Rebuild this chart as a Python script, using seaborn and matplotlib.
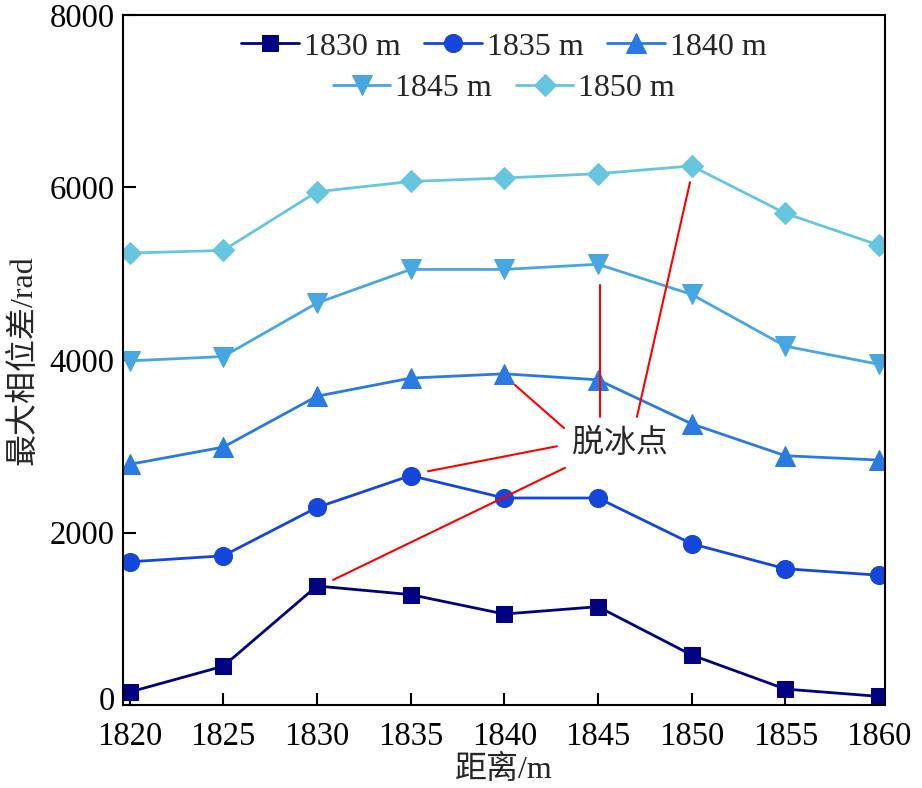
import matplotlib
matplotlib.use('Agg')
import matplotlib.pyplot as plt
import matplotlib.transforms as mtransforms
import seaborn as sns
import pandas as pd

# 数据
distance = [1820, 1825, 1830, 1835, 1840, 1845, 1850, 1855, 1860]
series_names = ['1830 m', '1835 m', '1840 m', '1845 m', '1850 m']
phase_1830 = [150, 450, 1380, 1280, 1055, 1140, 580, 185, 100]
phase_1835 = [1660, 1730, 2290, 2660, 2400, 2400, 1870, 1580, 1505]
phase_1840 = [2790, 2990, 3580, 3790, 3840, 3770, 3260, 2890, 2840]
phase_1845 = [3990, 4040, 4660, 5050, 5050, 5110, 4760, 4160, 3950]
phase_1850 = [5240, 5270, 5950, 6070, 6110, 6160, 6250, 5700, 5330]
all_phase = [phase_1830, phase_1835, phase_1840, phase_1845, phase_1850]

colors = ['#000080', '#1446dc', '#2a7ae2', '#48a6e0', '#66c6e0']
markers = ['s', 'o', '^', 'v', 'D']
msizes = [12, 13, 15, 15, 11]

sns.set_theme(style='ticks')
plt.rcParams['font.family'] = ['Liberation Serif', 'Noto Sans CJK SC']
plt.rcParams['axes.linewidth'] = 1.5

fig = plt.figure(figsize=(9.22, 7.88), dpi=100)
ax = fig.add_axes([0.1334, 0.1053, 0.8265, 0.8757])

handles = []
for name, vals, c, m, ms in zip(series_names, all_phase, colors, markers, msizes):
    df = pd.DataFrame({'x': distance, 'y': vals})
    sns.lineplot(data=df, x='x', y='y', ax=ax, color=c, marker=m, markersize=ms,
                 markeredgecolor=c, linewidth=2, label=name, legend=False)
    handles.append(ax.lines[-1])

ax.set_xlim(1819.65, 1860.32)
ax.set_ylim(0, 8000)
ax.set_xticks(distance)
ax.set_yticks([0, 2000, 4000, 6000, 8000])
ax.tick_params(axis='both', direction='in', length=9, width=1.5, labelsize=23.5,
               colors='black', pad=6)
ax.tick_params(axis='x', pad=12)
for sp in ax.spines.values():
    sp.set_visible(True)
    sp.set_color('black')

# y轴的"0"稍微上移，避免与1820重叠
ylab0 = ax.get_yticklabels()[0]
ylab0.set_transform(ylab0.get_transform() +
                    mtransforms.ScaledTranslation(0, 5 / 72, fig.dpi_scale_trans))

ax.set_xlabel('距离/m', fontsize=23, labelpad=2)
ax.set_ylabel('最大相位差/rad', fontsize=23, labelpad=8)

# 图例分两行
leg1 = ax.legend(handles=handles[:3], labels=series_names[:3], ncol=3, loc='center',
                 bbox_to_anchor=(0.5, 0.9536), frameon=False, fontsize=23,
                 handlelength=1.8, handletextpad=0.15, columnspacing=0.75,
                 borderpad=0, borderaxespad=0)
ax.add_artist(leg1)
ax.legend(handles=handles[3:], labels=series_names[3:], ncol=2, loc='center',
          bbox_to_anchor=(0.5, 0.894), frameon=False, fontsize=23,
          handlelength=1.8, handletextpad=0.15, columnspacing=0.75,
          borderpad=0, borderaxespad=0)

# 脱冰点标注
ax.text(1846.17, 3040, '脱冰点', fontsize=23, ha='center', va='center',
        family=['Noto Sans CJK SC'])
red_lines = [((1840.57, 3710), (1843.19, 3210)),
             ((1835.93, 2710), (1842.81, 3000)),
             ((1830.86, 1450), (1843.24, 2750)),
             ((1845.11, 4870), (1845.11, 3340)),
             ((1849.91, 6060), (1847.08, 3340))]
for (p0, p1) in red_lines:
    ax.annotate('', xy=p0, xytext=p1,
                arrowprops=dict(arrowstyle='-', color='red', lw=1.5,
                                shrinkA=0, shrinkB=0))

fig.savefig('out.png', dpi=100)
